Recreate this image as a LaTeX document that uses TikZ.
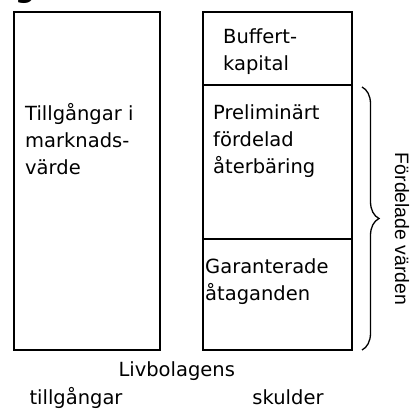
\documentclass[tikz,border=0pt]{standalone}
\usepackage{fontspec}
\setmainfont{DejaVu Sans}
\newfontfamily\sidefont{Liberation Sans}
\usetikzlibrary{decorations.pathreplacing}

\begin{document}
\begin{tikzpicture}
[x=1pt,y=-1pt,
 boxDecorate/.style={draw,line width=1.8pt},
 textDecorate/.style={inner sep=0pt,align=left,anchor=base west,font=\fontsize{19.5}{26.7}\selectfont},
 labelDecorate/.style={inner sep=0pt,anchor=base,font=\fontsize{19.5}{26.7}\selectfont}]
\useasboundingbox (0,0) rectangle (412,410);
%% cut-off heading at the top
\begin{scope}
\clip (0,0) rectangle (412,410);
\node (heading) at (15,-3) [anchor=base west,inner sep=0pt,font=\fontsize{28}{28}\selectfont\bfseries] {g};
\end{scope}
%% boxes
\foreach \boxname/\xa/\ya/\xb/\yb in {marknad/14/12/160/350, buffert/203/12/352/85,
  prelim/203/85/352/239, garant/203/239/352/350}
{
  \draw[boxDecorate] (\xa,\ya) rectangle (\xb,\yb) coordinate (\boxname);
}
%% texts in the boxes (y is the last line)
\foreach \textname/\x/\y/\words in {
  tillgangmv/25/174/{Tillgångar i\\marknads-\\värde},
  buffkap/223/70/{Buffert-\\kapital},
  prelimtxt/213/173.3/{Preliminärt\\fördelad\\återbäring},
  garanttxt/205/300/{Garanterade\\åtaganden}}
{
  \node (\textname) at (\x,\y) [textDecorate] {\words};
}
%% brace and its label
\coordinate (braceTop) at (362,87);
\coordinate (braceBot) at (362,350);
\draw[line width=1.3pt,decorate,decoration={brace,amplitude=17pt}] (braceTop) -- (braceBot);
\node (fordelade) at (395,229) [rotate=-90,inner sep=0pt,anchor=base,font=\sidefont\fontsize{19.4}{20}\selectfont] {Fördelade värden};
%% labels below
\node (livbolag) at (176.7,376.7) [labelDecorate] {Livbolagens};
\node (tillgangar) at (76,404) [labelDecorate] {tillgångar};
\node (skulder) at (288,404) [labelDecorate] {skulder};
\end{tikzpicture}
\end{document}
